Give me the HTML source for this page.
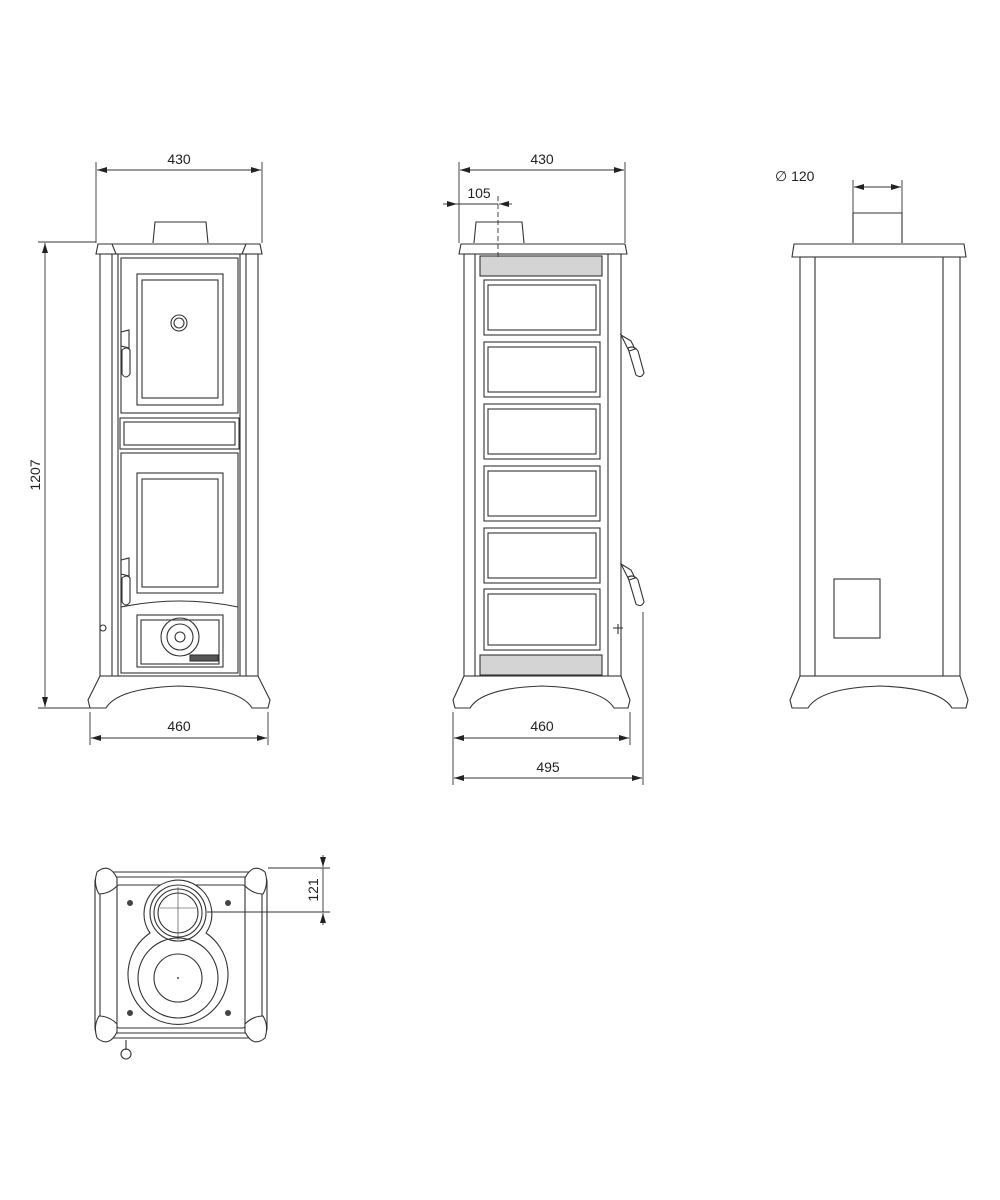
<!DOCTYPE html>
<html><head><style>body{margin:0;background:#fff}svg{display:block}text{font-family:"Liberation Sans",sans-serif;font-size:14px;fill:#222}</style></head>
<body>
<svg width="1000" height="1200" viewBox="0 0 1000 1200" xmlns="http://www.w3.org/2000/svg">
<defs>
<marker id="a" markerWidth="10" markerHeight="6" refX="10" refY="3" orient="auto-start-reverse" markerUnits="userSpaceOnUse"><path d="M0,0 L10,3 L0,6z" fill="#222"/></marker>
</defs>
<g fill="none" stroke="#333" stroke-width="1.1">
<!-- FRONT VIEW -->
<path d="M153,243 L155,222 L206,222 L208,243"/>
<path d="M96,254 L98,244 L260,244 L262,254 Z"/>
<path d="M112,244 L116,254 M246,244 L242,254"/>
<rect x="100" y="254" width="158" height="422"/>
<line x1="112" y1="254" x2="112" y2="676"/><line x1="246" y1="254" x2="246" y2="676"/>
<line x1="118" y1="254" x2="118" y2="676"/><line x1="240" y1="254" x2="240" y2="676"/>
<rect x="121" y="258" width="117" height="155"/>
<rect x="137" y="274" width="86" height="131"/><rect x="142" y="280" width="76" height="118"/>
<circle cx="179" cy="323" r="8"/><circle cx="179" cy="323" r="5"/>
<rect x="120" y="418" width="119" height="31"/><rect x="124" y="422" width="111" height="23"/>
<rect x="121" y="453" width="117" height="220"/>
<rect x="137" y="473" width="86" height="120"/><rect x="142" y="479" width="76" height="108"/>
<path d="M121,607 Q180,595 238,607"/>
<rect x="137" y="615" width="86" height="52"/><rect x="141" y="620" width="78" height="44"/>
<circle cx="180" cy="637" r="19"/><circle cx="180" cy="637" r="13"/><circle cx="180" cy="637" r="5"/>
<rect x="190" y="655" width="28" height="6" fill="#555"/>
<path d="M121,332 l8,-2 l0,18 l-8,-2z M122,350 q5,-4 8,0 l0,24 q-4,6 -8,0z"/>
<path d="M121,560 l8,-2 l0,18 l-8,-2z M122,578 q5,-4 8,0 l0,24 q-4,6 -8,0z"/>
<circle cx="103" cy="628" r="3"/>
<path d="M100,676 L258,676 L270,700 L268,708 L252,708 Q240,688 179,686 Q118,688 106,708 L90,708 L88,700 Z"/>
<!-- SIDE VIEW -->
<path d="M474,243 L476,222 L522,222 L524,243"/>
<path d="M459,254 L461,244 L625,244 L627,254 Z"/>
<rect x="464" y="254" width="157" height="422"/>
<line x1="475" y1="254" x2="475" y2="676"/><line x1="608" y1="254" x2="608" y2="676"/>
<rect x="480" y="256" width="122" height="20" fill="#d4d4d4"/>
<rect x="480" y="655" width="122" height="20" fill="#d4d4d4"/>
<rect x="484" y="280" width="116" height="55"/><rect x="488" y="285" width="108" height="45"/>
<rect x="484" y="342" width="116" height="55"/><rect x="488" y="347" width="108" height="45"/>
<rect x="484" y="404" width="116" height="55"/><rect x="488" y="409" width="108" height="45"/>
<rect x="484" y="466" width="116" height="55"/><rect x="488" y="471" width="108" height="45"/>
<rect x="484" y="528" width="116" height="55"/><rect x="488" y="533" width="108" height="45"/>
<rect x="484" y="589" width="116" height="61"/><rect x="488" y="594" width="108" height="51"/>
<path d="M621,335 l10,6 l4,8 l-6,2z M628,348 q6,-3 10,3 l6,22 q-3,6 -8,2z"/>
<path d="M621,564 l10,6 l4,8 l-6,2z M628,577 q6,-3 10,3 l6,22 q-3,6 -8,2z"/>
<path d="M613,628 l10,0 M618,624 l0,10"/>
<path d="M464,676 L621,676 L630,700 L628,708 L614,708 Q602,688 542,686 Q482,688 470,708 L455,708 L453,700 Z"/>
<!-- RIGHT VIEW -->
<path d="M853,243 L853,213 L902,213 L902,243"/>
<path d="M792,257 L794,244 L964,244 L966,257 Z"/>
<rect x="800" y="257" width="160" height="419"/>
<line x1="815" y1="257" x2="815" y2="676"/><line x1="943" y1="257" x2="943" y2="676"/>
<rect x="834" y="579" width="46" height="59"/>
<path d="M800,676 L960,676 L968,700 L966,708 L952,708 Q940,688 880,686 Q820,688 808,708 L792,708 L790,700 Z"/>
<!-- TOP VIEW -->
<rect x="95" y="872" width="172" height="166" rx="10"/>
<rect x="100" y="877" width="162" height="156" rx="6"/>
<rect x="117" y="885" width="128" height="143" rx="2"/>
<path d="M150,895 A33,33 0 1 1 206,933 A50,50 0 1 1 150,933 A33,33 0 0 1 150,895 Z" fill="#fff"/>
<path d="M97,872 q-4,12 2,22 q10,0 18,-8 l0,-8 q-8,-16 -20,-6z" fill="#fff"/>
<path d="M265,872 q4,12 -2,22 q-10,0 -18,-8 l0,-8 q8,-16 20,-6z" fill="#fff"/>
<path d="M97,1038 q-4,-12 2,-22 q10,0 18,8 l0,8 q-8,16 -20,6z" fill="#fff"/>
<path d="M265,1038 q4,-12 -2,-22 q-10,0 -18,8 l0,8 q8,16 20,6z" fill="#fff"/>
<circle cx="178" cy="913" r="28"/><circle cx="178" cy="913" r="24"/><circle cx="178" cy="913" r="20"/>
<line x1="178" y1="887" x2="178" y2="940" stroke-width="0.6"/><line x1="160" y1="908" x2="196" y2="908" stroke-width="0.6"/>
<circle cx="178" cy="978" r="40"/><circle cx="178" cy="978" r="24"/>
<path d="M126,1040 l0,10"/><circle cx="126" cy="1054" r="5"/>
</g>
<g fill="#444"><circle cx="130" cy="903" r="3"/><circle cx="228" cy="903" r="3"/><circle cx="130" cy="1013" r="3"/><circle cx="228" cy="1013" r="3"/><circle cx="178" cy="978" r="1"/></g>
<!-- DIMENSIONS -->
<g fill="none" stroke="#333" stroke-width="0.9">
<line x1="96" y1="162" x2="96" y2="243"/><line x1="262" y1="162" x2="262" y2="243"/>
<line x1="97" y1="170" x2="261" y2="170" marker-start="url(#a)" marker-end="url(#a)"/>
<line x1="38" y1="242" x2="96" y2="242"/><line x1="38" y1="708" x2="90" y2="708"/>
<line x1="45" y1="243" x2="45" y2="707" marker-start="url(#a)" marker-end="url(#a)"/>
<line x1="90" y1="712" x2="90" y2="745"/><line x1="268" y1="712" x2="268" y2="745"/>
<line x1="91" y1="738" x2="267" y2="738" marker-start="url(#a)" marker-end="url(#a)"/>
<line x1="459" y1="162" x2="459" y2="243"/><line x1="625" y1="162" x2="625" y2="243"/>
<line x1="460" y1="170" x2="624" y2="170" marker-start="url(#a)" marker-end="url(#a)"/>
<line x1="443" y1="204" x2="457" y2="204" marker-end="url(#a)"/>
<line x1="512" y1="204" x2="499" y2="204" marker-end="url(#a)"/>
<line x1="457" y1="204" x2="498" y2="204"/>
<line x1="498" y1="196" x2="498" y2="260" stroke-dasharray="5,3"/>
<line x1="453" y1="712" x2="453" y2="785"/><line x1="630" y1="712" x2="630" y2="745"/>
<line x1="643" y1="612" x2="643" y2="785"/>
<line x1="454" y1="738" x2="629" y2="738" marker-start="url(#a)" marker-end="url(#a)"/>
<line x1="454" y1="778" x2="642" y2="778" marker-start="url(#a)" marker-end="url(#a)"/>
<line x1="853" y1="180" x2="853" y2="213"/><line x1="902" y1="180" x2="902" y2="213"/>
<line x1="854" y1="187" x2="901" y2="187" marker-start="url(#a)" marker-end="url(#a)"/>
<line x1="268" y1="868" x2="330" y2="868"/><line x1="207" y1="912" x2="330" y2="912"/>
<line x1="323" y1="855" x2="323" y2="867" marker-end="url(#a)"/>
<line x1="323" y1="925" x2="323" y2="913" marker-end="url(#a)"/>
<line x1="323" y1="868" x2="323" y2="912"/>
</g>
<text x="179" y="164" text-anchor="middle">430</text>
<text x="542" y="164" text-anchor="middle">430</text>
<text x="479" y="198" text-anchor="middle">105</text>
<text x="775" y="181">∅ 120</text>
<text x="179" y="731" text-anchor="middle">460</text>
<text x="542" y="731" text-anchor="middle">460</text>
<text x="548" y="772" text-anchor="middle">495</text>
<text transform="translate(40,475) rotate(-90)" text-anchor="middle">1207</text>
<text transform="translate(318,890) rotate(-90)" text-anchor="middle">121</text>
</svg>
</body></html>
